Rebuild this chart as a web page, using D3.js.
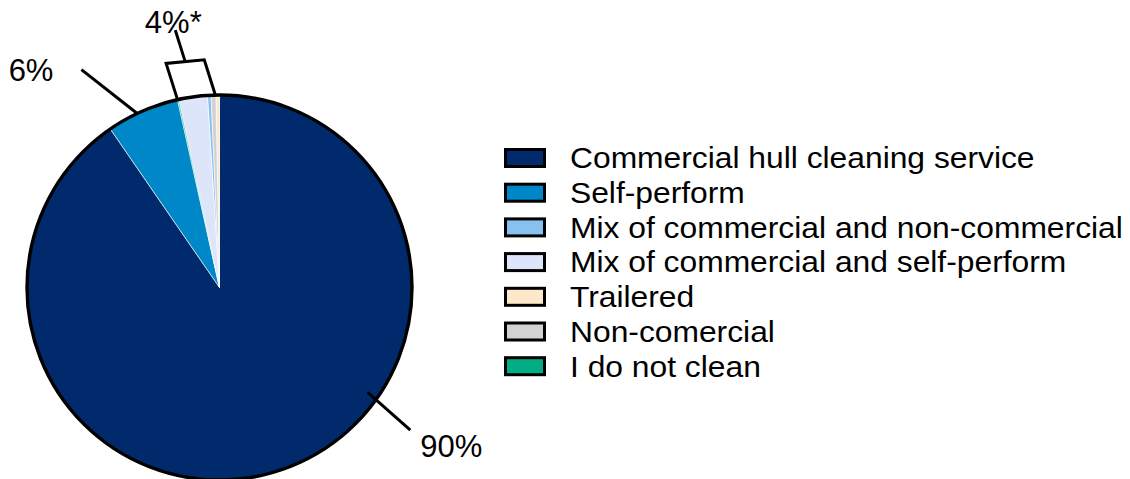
<!DOCTYPE html>
<html>
<head>
<meta charset="utf-8">
<script src="https://cdn.jsdelivr.net/npm/d3@7"></script>
<style>
  body { margin: 0; background: #fff; }
  svg text { font-family: "Liberation Sans", Arial, sans-serif; fill: #000; }
</style>
</head>
<body>
<div id="chart"></div>
<script>
// Legend order
var categories = ["Commercial hull cleaning service", "Self-perform",
  "Mix of commercial and non-commercial", "Mix of commercial and self-perform",
  "Trailered", "Non-comercial", "I do not clean"];
var values = [90.4, 6.1, 0.3, 2.4, 0.3, 0.4, 0.1];
var colors = ["#002a6c", "#0087c7", "#86c1ef", "#dde5fb", "#fde9c9", "#d2d2d2", "#00ad85"];
// order the slices run clockwise from 12 o'clock
var sliceOrder = ["Commercial hull cleaning service", "Self-perform", "I do not clean",
  "Mix of commercial and self-perform", "Mix of commercial and non-commercial",
  "Non-comercial", "Trailered"];
var smallGroup = ["I do not clean", "Mix of commercial and self-perform",
  "Mix of commercial and non-commercial", "Non-comercial", "Trailered"];
var labels = ["90%", "6%", "4%*"];

var width = 1130, height = 479;
var cx = 219.5, cy = 287.5, radius = 192.5;

var dataset = categories.map(function(c, i) { return { label: c, count: values[i] }; });
var color = d3.scaleOrdinal().domain(categories).range(colors);

var svg = d3.select("#chart").append("svg")
  .attr("width", width).attr("height", height);

var g = svg.append("g").attr("transform", "translate(" + cx + "," + cy + ")");

var pie = d3.pie()
  .value(function(d) { return d.count; })
  .sort(function(a, b) { return sliceOrder.indexOf(a.label) - sliceOrder.indexOf(b.label); });

var arc = d3.arc().innerRadius(0).outerRadius(radius);
var arcs = pie(dataset);

g.selectAll("path.slice")
  .data(arcs)
  .enter().append("path")
  .attr("class", "slice")
  .attr("d", arc)
  .attr("fill", function(d) { return color(d.data.label); })
  .attr("stroke", "#fff")
  .attr("stroke-width", 0.6);

g.append("circle").attr("r", radius)
  .attr("fill", "none").attr("stroke", "#000").attr("stroke-width", 3.4);

function pt(angle, r) { return [Math.sin(angle) * r, -Math.cos(angle) * r]; }
function byLabel(l) { return arcs.filter(function(a) { return a.data.label === l; })[0]; }

// 90% leader: crosses the rim on the lower right
var big = byLabel(categories[0]);
var a90 = big.startAngle + (big.endAngle - big.startAngle) * 0.385;
var p0 = pt(a90, radius - 11), dir = [0.749, 0.662];
var p1 = [p0[0] + dir[0] * 57, p0[1] + dir[1] * 57];
g.append("line").attr("x1", p0[0]).attr("y1", p0[1]).attr("x2", p1[0]).attr("y2", p1[1])
  .attr("stroke", "#000").attr("stroke-width", 3);
g.append("text").attr("x", p1[0] + 10).attr("y", p1[1] + 27)
  .attr("font-size", 31).text(labels[0]);

// 6% leader
var sp = byLabel(categories[1]);
var a6 = (sp.startAngle + sp.endAngle) / 2 - 0.03;
var q0 = pt(a6, radius), dir6 = [-0.786, -0.618];
var q1 = [q0[0] + dir6[0] * 71, q0[1] + dir6[1] * 71];
g.append("line").attr("x1", q0[0]).attr("y1", q0[1]).attr("x2", q1[0]).attr("y2", q1[1])
  .attr("stroke", "#000").attr("stroke-width", 3);
g.append("text").attr("x", q1[0] - 28).attr("y", q1[1] + 11)
  .attr("text-anchor", "end").attr("font-size", 31).text(labels[1]);

// 4%* bracket over the small slices
var smalls = smallGroup.map(byLabel);
var s0 = d3.min(smalls, function(d) { return d.startAngle; });
var s1 = d3.max(smalls, function(d) { return d.endAngle; }) - 0.02;
var legDir = [-0.3, -0.954], legLen = 38;
var b0 = pt(s0, radius), b1 = pt(s1, radius - 1);
var t0 = [b0[0] + legDir[0] * legLen, b0[1] + legDir[1] * legLen];
var t1 = [b1[0] + legDir[0] * legLen, b1[1] + legDir[1] * legLen];
g.append("path")
  .attr("d", d3.line()([b0, t0, t1, b1]))
  .attr("fill", "none").attr("stroke", "#000").attr("stroke-width", 3);
var m = [(t0[0] + t1[0]) / 2, (t0[1] + t1[1]) / 2];
var m1 = [m[0] + legDir[0] * 33, m[1] + legDir[1] * 33];
g.append("line").attr("x1", m[0]).attr("y1", m[1]).attr("x2", m1[0]).attr("y2", m1[1])
  .attr("stroke", "#000").attr("stroke-width", 3);
g.append("text").attr("x", m1[0] - 2).attr("y", m1[1] + 3)
  .attr("text-anchor", "middle").attr("font-size", 31).text(labels[2]);

// Legend
var legendX = 505.5, legendY = 149.5, rowH = 34.7;
var legend = svg.selectAll(".legend")
  .data(categories)
  .enter().append("g")
  .attr("class", "legend")
  .attr("transform", function(d, i) { return "translate(" + legendX + "," + (legendY + i * rowH) + ")"; });

legend.append("rect")
  .attr("width", 39).attr("height", 17)
  .attr("fill", function(d) { return color(d); })
  .attr("stroke", "#000").attr("stroke-width", 3);

legend.append("text")
  .attr("transform", "translate(64.5,18.8) scale(1.085,1)")
  .attr("font-size", 29.3)
  .text(function(d) { return d; });
</script>
</body>
</html>
